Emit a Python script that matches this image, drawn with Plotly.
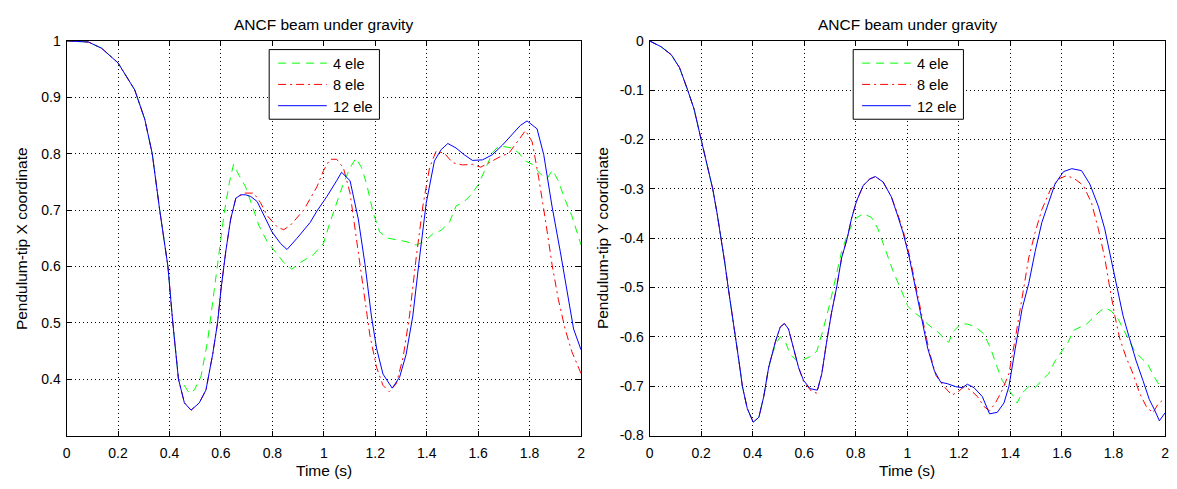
import plotly.graph_objects as go

# ---------------- data ----------------
# Shared start of the swing (all meshes agree here)
t_x_start = [0.0, 0.085, 0.136, 0.2, 0.265, 0.304, 0.333, 0.362, 0.394, 0.413, 0.435]
x_start = [1.0, 0.998, 0.987, 0.961, 0.913, 0.861, 0.80, 0.70, 0.60, 0.50, 0.40]

t_x12 = [0.458, 0.484, 0.516, 0.542, 0.568, 0.587, 0.600, 0.619, 0.638, 0.658, 0.677,
         0.696, 0.716, 0.741, 0.767, 0.799, 0.831, 0.857, 0.896, 0.947, 0.973, 1.012,
         1.05, 1.069, 1.102, 1.134, 1.16, 1.185, 1.205, 1.23, 1.266, 1.295, 1.32, 1.346,
         1.372, 1.398, 1.43, 1.456, 1.482, 1.514, 1.546, 1.578, 1.617, 1.655, 1.694,
         1.732, 1.764, 1.79, 1.829, 1.855, 1.887, 1.919, 1.945, 1.971, 2.0]
x12 = [0.358, 0.345, 0.358, 0.381, 0.444, 0.50, 0.558, 0.627, 0.684, 0.721, 0.727,
       0.727, 0.724, 0.715, 0.692, 0.661, 0.641, 0.630, 0.650, 0.678, 0.698, 0.724,
       0.752, 0.767, 0.752, 0.684, 0.604, 0.512, 0.455, 0.409, 0.384, 0.404, 0.444, 0.512,
       0.615, 0.712, 0.787, 0.807, 0.818, 0.810, 0.798, 0.788, 0.789, 0.798, 0.815,
       0.835, 0.850, 0.858, 0.844, 0.798, 0.707, 0.627, 0.558, 0.489, 0.452]

t_x8 = [0.458, 0.484, 0.516, 0.542, 0.568, 0.587, 0.600, 0.619, 0.638, 0.658, 0.69,
        0.728, 0.754, 0.78, 0.819, 0.844, 0.87, 0.922, 0.973, 0.999, 1.024, 1.05, 1.076,
        1.102, 1.127, 1.153, 1.179, 1.205, 1.23, 1.254, 1.282, 1.308, 1.333, 1.359,
        1.385, 1.411, 1.436, 1.468, 1.501, 1.539, 1.578, 1.61, 1.642, 1.687, 1.72,
        1.752, 1.784, 1.81, 1.835, 1.861, 1.887, 1.912, 1.938, 1.964, 2.0]
x8 = [0.358, 0.345, 0.358, 0.381, 0.444, 0.50, 0.558, 0.627, 0.684, 0.721, 0.73,
      0.73, 0.713, 0.69, 0.67, 0.665, 0.673, 0.70, 0.741, 0.770, 0.790, 0.79, 0.775,
      0.730, 0.650, 0.558, 0.478, 0.421, 0.389, 0.378, 0.392, 0.438, 0.512, 0.615,
      0.707, 0.775, 0.804, 0.801, 0.784, 0.780, 0.781, 0.776, 0.784, 0.795, 0.801,
      0.821, 0.841, 0.821, 0.758, 0.684, 0.604, 0.541, 0.489, 0.449, 0.41]

t_x4 = [0.445, 0.477, 0.497, 0.522, 0.548, 0.574, 0.593, 0.613, 0.632, 0.649, 0.671,
        0.696, 0.722, 0.748, 0.78, 0.819, 0.844, 0.876, 0.909, 0.96, 0.999, 1.024,
        1.05, 1.076, 1.102, 1.125, 1.147, 1.166, 1.192, 1.217, 1.25, 1.288, 1.32,
        1.359, 1.391, 1.424, 1.456, 1.488, 1.514, 1.546, 1.578, 1.603, 1.629, 1.655,
        1.681, 1.707, 1.732, 1.758, 1.784, 1.81, 1.842, 1.868, 1.889, 1.912, 1.938,
        1.964, 2.0]
x4 = [0.398, 0.375, 0.381, 0.404, 0.467, 0.558, 0.627, 0.695, 0.747, 0.781, 0.761,
      0.741, 0.707, 0.672, 0.644, 0.621, 0.607, 0.595, 0.607, 0.621, 0.641, 0.678,
      0.712, 0.747, 0.775, 0.792, 0.775, 0.747, 0.695, 0.661, 0.650, 0.647, 0.644,
      0.638, 0.644, 0.658, 0.664, 0.678, 0.707, 0.715, 0.730, 0.747, 0.775, 0.801,
      0.814, 0.812, 0.810, 0.801, 0.787, 0.781, 0.764, 0.756, 0.771, 0.751, 0.718,
      0.690, 0.638]

t_y_start = [0.0, 0.045, 0.084, 0.116, 0.148, 0.173, 0.2, 0.225, 0.245, 0.262, 0.278,
             0.292, 0.305, 0.32, 0.333, 0.347, 0.36, 0.379, 0.402, 0.424, 0.443, 0.462]
y_start = [0.0, -0.012, -0.028, -0.054, -0.1, -0.139, -0.2, -0.257, -0.30, -0.35, -0.40,
           -0.45, -0.50, -0.55, -0.60, -0.65, -0.70, -0.745, -0.773, -0.763, -0.721, -0.662]

t_y12 = [0.488, 0.507, 0.523, 0.539, 0.559, 0.578, 0.597, 0.623, 0.651, 0.668, 0.687,
         0.706, 0.726, 0.745, 0.767, 0.783, 0.803, 0.829, 0.854, 0.876, 0.906, 0.938,
         0.963, 0.983, 1.008, 1.034, 1.06, 1.079, 1.105, 1.13, 1.156, 1.188, 1.214,
         1.233, 1.259, 1.291, 1.319, 1.349, 1.375, 1.394, 1.419, 1.445, 1.471, 1.496,
         1.522, 1.548, 1.573, 1.606, 1.638, 1.676, 1.708, 1.741, 1.766, 1.792, 1.815,
         1.837, 1.862, 1.888, 1.914, 1.939, 1.961, 1.978, 2.0]
y12 = [-0.610, -0.580, -0.573, -0.584, -0.626, -0.662, -0.688, -0.705, -0.708, -0.675,
       -0.61, -0.551, -0.499, -0.44, -0.40, -0.361, -0.325, -0.293, -0.28, -0.275,
       -0.286, -0.316, -0.355, -0.388, -0.44, -0.505, -0.571, -0.623, -0.669, -0.692,
       -0.695, -0.701, -0.703, -0.696, -0.703, -0.721, -0.756, -0.753, -0.734, -0.701,
       -0.623, -0.544, -0.492, -0.427, -0.368, -0.329, -0.29, -0.265, -0.259, -0.263,
       -0.29, -0.335, -0.381, -0.446, -0.505, -0.557, -0.603, -0.649, -0.688, -0.727,
       -0.75, -0.77, -0.754]

t_y8 = [0.488, 0.507, 0.523, 0.539, 0.559, 0.578, 0.597, 0.629, 0.649, 0.668, 0.687,
        0.706, 0.726, 0.745, 0.767, 0.783, 0.803, 0.829, 0.854, 0.876, 0.906, 0.938,
        0.963, 0.983, 1.008, 1.034, 1.06, 1.085, 1.111, 1.143, 1.173, 1.195, 1.22,
        1.246, 1.272, 1.297, 1.319, 1.342, 1.368, 1.394, 1.419, 1.445, 1.471, 1.496,
        1.522, 1.554, 1.587, 1.618, 1.65, 1.683, 1.715, 1.741, 1.766, 1.785, 1.805,
        1.824, 1.85, 1.876, 1.901, 1.927, 1.953, 1.972, 2.0]
y8 = [-0.610, -0.580, -0.573, -0.584, -0.626, -0.662, -0.690, -0.711, -0.714, -0.675,
      -0.61, -0.551, -0.499, -0.44, -0.40, -0.361, -0.325, -0.293, -0.28, -0.275,
      -0.286, -0.316, -0.352, -0.383, -0.434, -0.499, -0.564, -0.629, -0.678, -0.701,
      -0.718, -0.712, -0.701, -0.708, -0.721, -0.741, -0.750, -0.734, -0.708, -0.675,
      -0.603, -0.518, -0.44, -0.388, -0.342, -0.303, -0.28, -0.273, -0.28, -0.293,
      -0.329, -0.381, -0.44, -0.499, -0.557, -0.603, -0.643, -0.675, -0.714, -0.741,
      -0.754, -0.737, -0.724]

t_y4 = [0.488, 0.507, 0.527, 0.546, 0.572, 0.597, 0.623, 0.649, 0.674, 0.70, 0.719,
        0.745, 0.771, 0.797, 0.829, 0.861, 0.886, 0.912, 0.944, 0.976, 1.002, 1.021,
        1.053, 1.085, 1.118, 1.143, 1.16, 1.182, 1.207, 1.233, 1.265, 1.297, 1.323,
        1.349, 1.368, 1.394, 1.413, 1.426, 1.445, 1.471, 1.496, 1.522, 1.548, 1.573,
        1.599, 1.625, 1.644, 1.67, 1.696, 1.721, 1.747, 1.769, 1.792, 1.818, 1.837,
        1.856, 1.882, 1.908, 1.933, 1.959, 1.978, 2.0]
y4 = [-0.615, -0.60, -0.61, -0.636, -0.649, -0.646, -0.64, -0.629, -0.584, -0.531,
      -0.486, -0.427, -0.388, -0.361, -0.35, -0.358, -0.381, -0.42, -0.466, -0.505,
      -0.538, -0.548, -0.561, -0.577, -0.59, -0.603, -0.611, -0.587, -0.574, -0.574,
      -0.58, -0.594, -0.623, -0.662, -0.688, -0.708, -0.721, -0.734, -0.714, -0.701,
      -0.703, -0.688, -0.675, -0.649, -0.629, -0.61, -0.587, -0.58, -0.574, -0.561,
      -0.548, -0.541, -0.548, -0.564, -0.584, -0.603, -0.629, -0.643, -0.656, -0.682,
      -0.698, -0.701]

x_tickvals = [0, 0.2, 0.4, 0.6, 0.8, 1.0, 1.2, 1.4, 1.6, 1.8, 2.0]
x_ticktext = ["0", "0.2", "0.4", "0.6", "0.8", "1", "1.2", "1.4", "1.6", "1.8", "2"]
yx_tickvals = [0.4, 0.5, 0.6, 0.7, 0.8, 0.9, 1.0]
yx_ticktext = ["0.4", "0.5", "0.6", "0.7", "0.8", "0.9", "1"]
yy_tickvals = [0, -0.1, -0.2, -0.3, -0.4, -0.5, -0.6, -0.7, -0.8]
yy_ticktext = ["0", "-0.1", "-0.2", "-0.3", "-0.4", "-0.5", "-0.6", "-0.7", "-0.8"]

names = ["4 ele", "8 ele", "12 ele"]
colors = ["#00ff00", "#ff0000", "#0000ff"]
dashes = ["8px,6px", "8px,4px,2px,4px", "solid"]

FONT = "Liberation Sans, Arial, sans-serif"
W, H = 1177, 489


def px_x(p):
    return p / W


def px_y(p):
    return 1 - p / H


fig = go.Figure()

x_series = [(t_x_start + t_x4, x_start + x4),
            (t_x_start + t_x8, x_start + x8),
            (t_x_start + t_x12, x_start + x12)]
y_series = [(t_y_start + t_y4, y_start + y4),
            (t_y_start + t_y8, y_start + y8),
            (t_y_start + t_y12, y_start + y12)]

for i in range(3):
    fig.add_trace(go.Scatter(
        x=x_series[i][0], y=x_series[i][1], mode="lines", name=names[i],
        line=dict(color=colors[i], width=1, dash=dashes[i]),
        xaxis="x", yaxis="y", showlegend=False))
for i in range(3):
    fig.add_trace(go.Scatter(
        x=y_series[i][0], y=y_series[i][1], mode="lines", name=names[i],
        line=dict(color=colors[i], width=1, dash=dashes[i]),
        xaxis="x2", yaxis="y2", showlegend=False))

axis_common = dict(
    showline=True, linecolor="black", linewidth=1, mirror="allticks",
    ticks="inside", ticklen=5, tickcolor="black", tickwidth=1,
    showgrid=True, gridcolor="black", gridwidth=1, griddash="1px,3px",
    zeroline=False, tickfont=dict(family=FONT, size=14, color="black"),
    fixedrange=True,
)

left_dom = [px_x(63), px_x(581)]
right_dom = [px_x(650), px_x(1169)]
y_dom = [px_y(442), px_y(34)]

fig.update_layout(
    width=W, height=H,
    margin=dict(l=0, r=0, t=0, b=0),
    paper_bgcolor="white", plot_bgcolor="white",
    font=dict(family=FONT, size=14, color="black"),
    xaxis=dict(domain=left_dom, anchor="y", range=[0, 2], ticklabelstandoff=5,
               tickmode="array", tickvals=x_tickvals, ticktext=x_ticktext, **axis_common),
    yaxis=dict(domain=y_dom, anchor="x", range=[0.3, 1], ticklabelstandoff=2,
               tickmode="array", tickvals=yx_tickvals, ticktext=yx_ticktext, **axis_common),
    xaxis2=dict(domain=right_dom, anchor="y2", range=[0, 2], ticklabelstandoff=5,
                tickmode="array", tickvals=x_tickvals, ticktext=x_ticktext, **axis_common),
    yaxis2=dict(domain=y_dom, anchor="x2", range=[-0.8, 0], ticklabelstandoff=2,
                tickmode="array", tickvals=yy_tickvals, ticktext=yy_ticktext, **axis_common),
    showlegend=False,
)

# Legend boxes drawn in pixel space: one per panel, top-centre of each axes
legend_left_edges = [267, 855]
legend_rows = [57, 79, 101]
for lx in legend_left_edges:
    fig.add_shape(type="rect", xref="paper", yref="paper",
                  x0=px_x(lx), x1=px_x(lx + 111), y0=px_y(115), y1=px_y(43),
                  line=dict(color="black", width=1), fillcolor="white", layer="above")
    for i in range(3):
        ry = legend_rows[i]
        fig.add_shape(type="line", xref="paper", yref="paper",
                      x0=px_x(lx + 9), x1=px_x(lx + 58), y0=px_y(ry), y1=px_y(ry),
                      line=dict(color=colors[i], width=1, dash=dashes[i]), layer="above")
        fig.add_annotation(text=names[i], x=px_x(lx + 62), y=px_y(ry + 1),
                           xref="paper", yref="paper", xanchor="left", yanchor="middle",
                           showarrow=False,
                           font=dict(family=FONT, size=14.5, color="black"))

labels = [
    ("ANCF beam under gravity", (63 + 581) / 2, 17, 0),
    ("ANCF beam under gravity", (650 + 1169) / 2, 17, 0),
    ("Time (s)", (63 + 581) / 2, 478, 0),
    ("Time (s)", (650 + 1169) / 2, 478, 0),
    ("Pendulum-tip X coordinate", 17, 238, -90),
    ("Pendulum-tip Y coordinate", 602, 238, -90),
]
for text, xp, yp, ang in labels:
    fig.add_annotation(text=text, x=px_x(xp), y=px_y(yp), xref="paper", yref="paper",
                       xanchor="center", yanchor="middle", showarrow=False, textangle=ang,
                       font=dict(family=FONT, size=15.5, color="black"))

fig.write_html("out.html")
